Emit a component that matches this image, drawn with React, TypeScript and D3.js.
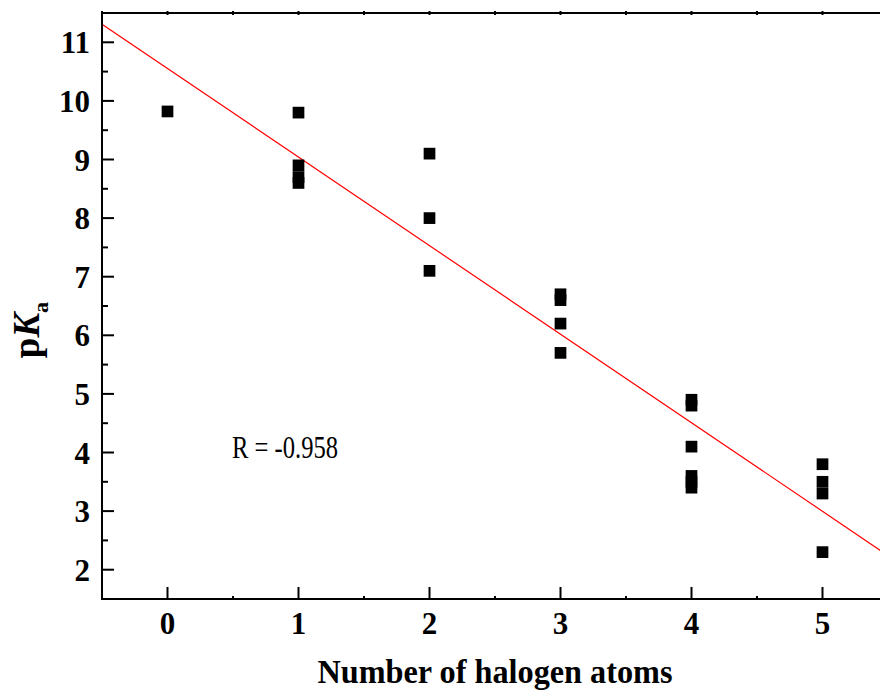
import React from "react";
import * as d3 from "d3";

// halogen count per compound and its measured pKa
const halogenCount = [0, 1, 1, 1, 1, 2, 2, 2, 3, 3, 3, 3, 4, 4, 4, 4, 4, 4, 5, 5, 5, 5];
const pKaValues = [
  9.82, 9.8, 8.9, 8.7, 8.6, 9.1, 8.0, 7.1, 6.7, 6.6, 6.2, 5.7, 4.9, 4.8, 4.1, 3.6,
  3.5, 3.4, 3.8, 3.5, 3.3, 2.3,
];
const xTicks = [0, 1, 2, 3, 4, 5];
const yTicks = [2, 3, 4, 5, 6, 7, 8, 9, 10, 11];
const xMinor = [-0.5, 0.5, 1.5, 2.5, 3.5, 4.5, 5.5];
const yMinor = [1.5, 2.5, 3.5, 4.5, 5.5, 6.5, 7.5, 8.5, 9.5, 10.5, 11.5];
const rLabel = "R = -0.958";

const W = 880;
const H = 693;
const font = '"Liberation Serif", "Times New Roman", serif';

export default function App() {
  const x = d3.scaleLinear().domain([-0.5, 5.5]).range([102, 888]);
  const y = d3.scaleLinear().domain([1.5, 11.5]).range([599, 13]);

  // least squares fit
  const mx = d3.mean(halogenCount)!;
  const my = d3.mean(pKaValues)!;
  const sxy = d3.sum(halogenCount, (v, i) => (v - mx) * (pKaValues[i] - my));
  const sxx = d3.sum(halogenCount, (v) => (v - mx) * (v - mx));
  const slope = sxy / sxx;
  const icpt = my - slope * mx;
  const fitLine = d3
    .line<number>()
    .x((d) => x(d))
    .y((d) => y(icpt + slope * d));

  const sq = 11.7;

  return (
    <svg
      width={W}
      height={H}
      style={{ position: "absolute", left: 0, top: 0, background: "#fff" }}
      fontFamily={font}
    >
      <defs>
        <clipPath id="plot">
          <rect x={102} y={13} width={786} height={586} />
        </clipPath>
      </defs>

      {/* regression line */}
      <path
        d={fitLine(x.domain())!}
        fill="none"
        stroke="#ff0000"
        strokeWidth={1.2}
        clipPath="url(#plot)"
      />

      {/* points */}
      {halogenCount.map((h, i) => (
        <rect
          key={i}
          x={x(h) - sq / 2}
          y={y(pKaValues[i]) - sq / 2}
          width={sq}
          height={sq}
          fill="#000"
        />
      ))}

      {/* frame */}
      <rect x={102} y={13} width={786} height={586} fill="none" stroke="#000" strokeWidth={2} />

      {/* y ticks */}
      {yTicks.map((t) => (
        <g key={"y" + t}>
          <line x1={102} x2={114} y1={y(t)} y2={y(t)} stroke="#000" strokeWidth={2} />
          <text
            x={90}
            y={y(t)}
            dy="0.36em"
            textAnchor="end"
            fontSize={31}
            fontWeight="bold"
          >
            {t}
          </text>
        </g>
      ))}
      {yMinor.map((t) => (
        <line key={"ym" + t} x1={102} x2={108} y1={y(t)} y2={y(t)} stroke="#000" strokeWidth={2} />
      ))}

      {/* x ticks */}
      {xTicks.map((t) => (
        <g key={"x" + t}>
          <line x1={x(t)} x2={x(t)} y1={599} y2={587} stroke="#000" strokeWidth={2} />
          <line x1={x(t)} x2={x(t)} y1={11} y2={15} stroke="#000" strokeWidth={2} />
          <text x={x(t)} y={634} textAnchor="middle" fontSize={31} fontWeight="bold">
            {t}
          </text>
        </g>
      ))}
      {xMinor.map((t) => (
        <g key={"xm" + t}>
          <line x1={x(t)} x2={x(t)} y1={599} y2={596} stroke="#000" strokeWidth={2} />
          <line x1={x(t)} x2={x(t)} y1={11} y2={15} stroke="#000" strokeWidth={2} />
        </g>
      ))}

      {/* annotation */}
      <text
        x={232}
        y={458}
        fontSize={31}
        textLength={106}
        lengthAdjust="spacingAndGlyphs"
      >
        {rLabel}
      </text>

      {/* axis titles */}
      <text
        x={495}
        y={683}
        textAnchor="middle"
        fontSize={33}
        fontWeight="bold"
        textLength={355}
        lengthAdjust="spacingAndGlyphs"
      >
        Number of halogen atoms
      </text>
      <text
        transform="translate(39,330) rotate(-90)"
        textAnchor="middle"
        fontSize={37}
        fontWeight="bold"
      >
        p<tspan fontStyle="italic">K</tspan>
        <tspan fontSize={22} dy={9}>
          a
        </tspan>
      </text>
    </svg>
  );
}
